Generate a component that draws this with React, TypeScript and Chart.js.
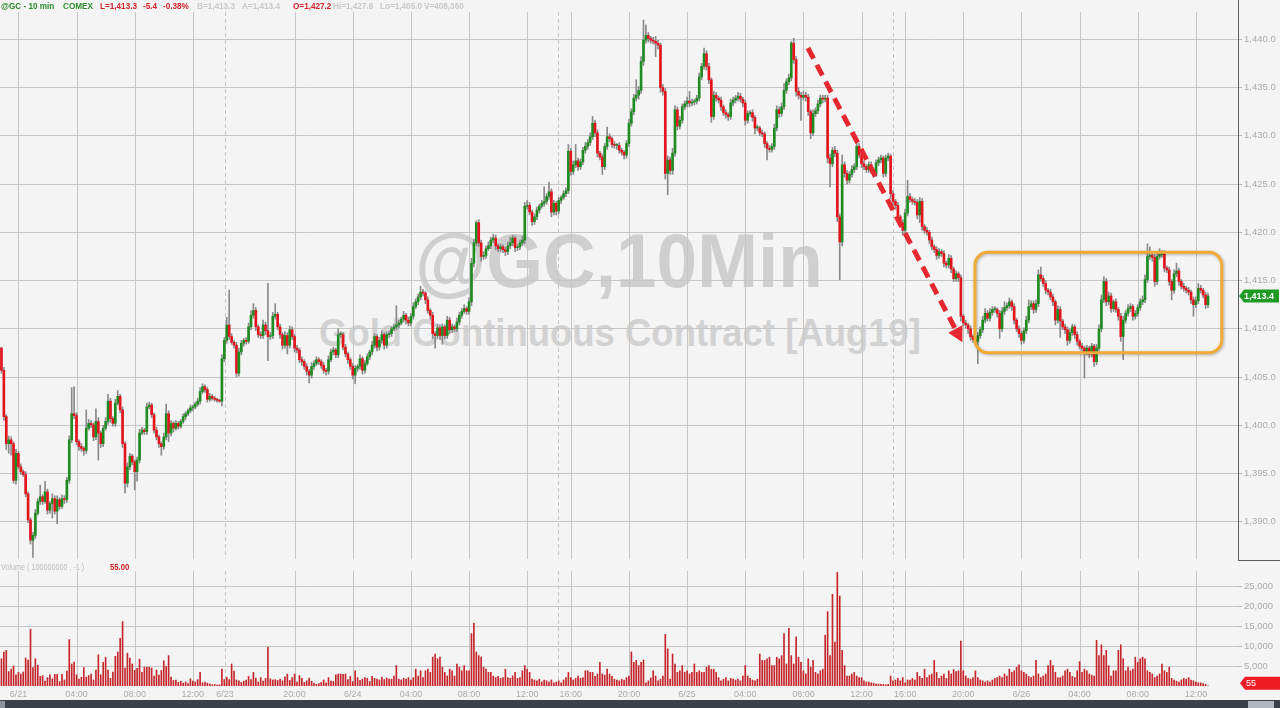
import React, { useEffect, useRef } from "react";
import { Chart, registerables } from "chart.js";
Chart.register(...registerables);

// ---------------- DATA ----------------
const firstOpen = 1408.0;

// 10-minute closes, 6/20 22:50 -> 6/26 12:50 (session gaps removed)
const closes = [
  1405.7,1400.9,1398.1,1398.5,1398.1,1394.3,1397.1,1395.7,1395.2,1394.9,
  1392.9,1390.2,1388.1,1388.6,1390.9,1392.1,1392.6,1392.1,1393.1,1391.2,
  1391.9,1392.4,1391.1,1392.3,1391.6,1392.4,1392.3,1394.3,1398.5,1401.2,
  1401.0,1398.3,1397.8,1397.6,1397.4,1399.7,1400.2,1400.05,1398.8,1400.4,
  1399.2,1398.1,1399.7,1400.4,1402.5,1400.7,1400.2,1402.3,1403.0,1401.6,
  1398.1,1394.0,1395.7,1396.8,1396.2,1395.2,1396.4,1399.2,1399.5,1399.35,
  1401.9,1402.1,1401.1,1399.5,1398.8,1398.1,1397.8,1398.8,1401.2,1399.2,
  1400.2,1399.7,1400.2,1399.9,1400.4,1400.9,1401.2,1401.5,1401.8,1401.9,
  1402.2,1402.5,1403.5,1404.0,1403.7,1402.7,1403.0,1402.8,1402.7,1402.6,
  1402.5,1406.9,1408.8,1410.4,1409.2,1408.6,1408.3,1405.4,1407.6,1408.5,
  1408.8,1408.7,1410.2,1411.4,1411.9,1410.2,1409.4,1409.3,1410.4,1409.8,
  1409.2,1409.3,1411.3,1411.5,1410.2,1409.4,1408.3,1409.3,1408.3,1409.9,
  1409.2,1408.0,1407.8,1406.8,1406.6,1406.1,1405.6,1405.2,1406.1,1406.4,
  1406.8,1406.6,1406.2,1405.7,1405.6,1406.8,1407.6,1407.8,1407.3,1409.4,
  1409.4,1408.1,1407.4,1406.8,1406.1,1405.2,1405.9,1406.1,1406.9,1405.7,
  1406.4,1407.1,1407.6,1408.3,1409.2,1408.1,1408.8,1409.4,1408.3,1409.4,
  1409.5,1410.0,1410.2,1410.4,1410.6,1411.0,1411.4,1410.9,1410.6,1411.3,
  1412.3,1412.8,1413.3,1413.8,1413.7,1413.0,1411.9,1411.4,1409.5,1409.3,
  1410.1,1409.3,1410.2,1409.3,1410.9,1409.9,1410.2,1410.0,1410.7,1411.4,
  1411.8,1412.1,1411.8,1412.8,1416.8,1418.9,1421.0,1418.9,1417.5,1417.6,
  1418.3,1418.6,1419.2,1419.4,1418.6,1418.3,1418.5,1418.2,1418.0,1418.6,
  1418.9,1419.4,1418.4,1418.5,1418.9,1419.2,1422.7,1422.8,1422.1,1421.1,
  1421.6,1422.3,1422.7,1423.0,1423.2,1423.7,1424.2,1422.1,1423.0,1422.2,
  1423.3,1423.6,1424.0,1424.3,1428.4,1426.3,1427.0,1427.4,1426.8,1427.3,
  1428.5,1428.9,1429.3,1429.9,1431.3,1430.3,1428.2,1427.8,1426.8,1428.9,
  1429.9,1429.7,1429.1,1429.0,1429.0,1428.5,1428.3,1428.0,1429.2,1431.3,
  1432.5,1433.9,1434.2,1434.7,1437.7,1439.9,1440.4,1440.1,1439.9,1439.8,
  1439.6,1439.4,1435.0,1434.6,1426.1,1427.5,1426.4,1428.2,1432.7,1431.0,
  1431.6,1433.0,1433.3,1433.6,1433.4,1433.5,1433.6,1433.9,1436.1,1437.2,
  1438.5,1437.2,1435.8,1432.0,1434.2,1433.9,1433.7,1433.0,1432.4,1432.2,
  1432.0,1433.4,1433.7,1433.9,1434.1,1433.8,1433.4,1431.6,1432.3,1432.4,
  1431.9,1430.8,1430.8,1430.3,1430.2,1429.2,1428.7,1428.6,1428.9,1430.8,
  1432.7,1432.3,1433.0,1434.7,1435.6,1436.0,1439.6,1437.9,1434.6,1434.2,
  1434.0,1434.2,1434.0,1432.5,1430.3,1432.3,1432.6,1433.3,1433.9,1433.8,
  1433.9,1427.7,1427.1,1428.5,1428.2,1421.6,1419.0,1427.0,1426.1,1425.4,
  1426.0,1426.5,1426.8,1428.9,1428.0,1427.1,1426.8,1426.5,1427.0,1426.5,
  1426.1,1427.2,1427.5,1427.7,1426.1,1427.7,1427.9,1424.0,1423.2,1422.8,
  1421.6,1421.0,1420.2,1422.0,1423.7,1423.4,1423.2,1423.1,1421.8,1423.2,
  1420.6,1420.2,1420.0,1419.2,1418.5,1418.2,1417.6,1418.0,1417.8,1416.8,
  1416.6,1417.3,1416.2,1415.2,1415.7,1415.3,1411.3,1410.6,1410.4,1410.0,
  1409.2,1408.9,1408.7,1409.3,1409.9,1410.9,1411.6,1411.1,1411.7,1412.0,
  1412.0,1411.6,1410.0,1411.8,1412.2,1412.4,1412.8,1412.3,1410.9,1410.0,
  1409.5,1408.8,1409.8,1410.9,1412.3,1412.6,1412.0,1412.6,1415.6,1415.2,
  1414.7,1414.0,1413.8,1413.3,1412.8,1410.9,1412.0,1410.8,1410.2,1409.9,
  1408.8,1409.6,1410.2,1409.4,1408.7,1408.2,1408.0,1407.6,1408.0,1407.4,
  1408.2,1406.6,1408.0,1410.0,1413.0,1414.9,1412.8,1413.4,1412.1,1412.8,
  1412.0,1411.3,1409.2,1410.9,1411.6,1412.1,1412.3,1411.3,1411.6,1412.2,
  1412.8,1413.0,1415.1,1417.5,1417.6,1417.4,1414.9,1417.5,1417.7,1417.8,
  1416.3,1416.1,1414.9,1414.0,1415.7,1416.0,1414.9,1414.4,1414.2,1414.0,
  1413.8,1413.0,1412.5,1412.9,1414.2,1414.0,1413.5,1412.5,1413.4,
];

// upper / lower shadow length of each candle (price units)
const wickUp = [
  0.1,0.3,0.2,0.4,0.3,0.2,0.4,0.2,0.3,0.2, 0.3,0.2,0.2,0.3,0.4,0.3,1.2,0.2,1.1,0.3,
  0.2,0.5,0.3,0.4,0.2,0.4,0.3,0.3,0.4,2.7, 2.8,0.3,0.2,0.3,0.2,1.9,0.4,0.3,0.2,1.3,
  0.4,0.2,0.3,0.4,0.7,0.3,0.2,0.4,0.6,0.2, 0.3,0.2,0.4,0.3,0.2,0.2,0.3,0.4,0.3,0.2,
  0.4,0.3,0.2,0.2,0.3,0.2,0.2,0.4,1.0,0.3, 0.3,0.2,0.3,0.2,0.2,0.3,0.2,0.2,0.3,0.2,
  0.2,0.3,0.4,0.3,0.2,0.2,0.3,0.2,0.2,0.1, 0.1,0.4,0.3,0.8,3.6,0.3,0.2,0.3,0.4,0.3,
  0.2,0.3,0.4,0.5,0.7,0.3,0.2,0.3,0.5,0.3, 4.9,0.3,0.4,1.1,0.2,0.3,0.2,0.4,0.3,0.4,
  0.3,0.2,0.3,0.2,0.3,0.2,0.3,0.2,0.4,0.3, 0.3,0.2,0.2,0.3,0.2,0.4,0.3,0.3,0.2,0.6,
  0.3,0.2,0.3,0.2,0.2,0.3,0.3,0.2,0.4,0.2, 0.3,0.3,0.2,0.4,0.3,0.2,0.3,0.4,0.2,0.3,
  0.3,0.2,0.3,2.0,0.3,0.2,0.4,0.2,0.3,0.3, 0.4,0.3,0.3,0.6,0.3,0.2,0.3,0.2,0.3,0.2,
  0.4,0.3,0.3,0.2,0.4,0.3,0.3,0.2,0.4,0.3, 0.3,0.4,0.2,0.4,0.5,0.4,0.2,0.3,0.3,0.4,
  0.3,0.4,0.3,0.4,0.3,0.2,0.3,0.2,0.3,0.4, 0.6,0.3,0.2,0.3,0.3,0.4,0.4,0.5,0.3,0.2,
  0.3,0.3,0.2,0.3,1.5,0.3,1.0,0.3,0.3,0.2, 0.3,0.2,0.3,0.3,0.7,0.3,0.4,1.7,0.3,0.3,
  0.3,0.4,0.3,0.4,0.7,0.3,0.3,0.2,0.3,0.3, 1.0,0.3,0.2,0.3,0.2,0.3,0.2,0.2,0.3,0.4,
  0.3,0.4,1.6,0.4,0.5,2.1,1.1,0.3,0.2,0.3, 0.5,0.3,0.2,0.3,0.3,0.4,0.3,0.5,0.4,0.3,
  0.4,0.3,0.3,0.4,1.0,0.3,0.2,0.3,0.4,0.3, 0.6,0.3,0.3,0.2,0.4,0.3,0.2,0.3,0.2,0.3,
  0.2,0.4,0.3,0.3,0.4,0.3,0.2,0.3,0.3,0.2, 0.3,0.2,0.3,0.2,0.3,0.2,0.2,0.3,0.3,0.4,
  0.4,0.3,0.4,0.7,0.3,0.4,0.2,0.5,0.3,0.4, 0.3,0.4,0.3,0.3,0.2,0.4,0.3,0.4,0.3,0.3,
  0.3,0.3,0.4,0.3,0.4,0.3,0.3,1.0,0.3,0.3, 0.3,0.4,0.3,0.7,0.3,0.2,0.3,0.2,0.3,0.3,
  0.2,0.3,0.3,0.3,0.2,0.3,0.3,0.2,0.3,0.2, 0.3,0.2,0.3,0.4,1.7,0.3,0.2,0.3,0.3,0.4,
  0.3,0.2,0.3,0.2,0.3,0.2,0.3,0.3,0.2,0.3, 0.2,0.4,0.3,0.2,0.3,0.2,0.3,0.2,0.3,0.2,
  0.3,0.2,0.3,0.3,0.3,0.4,0.5,0.3,0.4,0.3, 0.3,0.2,0.3,0.4,0.6,0.3,0.4,0.2,0.3,0.2,
  0.3,0.2,0.3,0.4,0.7,0.3,0.3,0.4,0.5,0.8, 0.3,0.3,0.2,0.3,0.3,0.2,0.4,0.3,0.2,0.3,
  0.3,0.4,0.3,0.2,0.3,0.2,0.3,0.2,0.3,0.2, 0.3,0.2,0.4,0.4,0.5,0.5,0.3,0.4,0.3,0.2,
  0.3,0.2,0.3,0.4,0.3,0.4,0.3,0.2,0.3,0.3, 0.3,0.4,0.5,1.3,0.9,0.3,0.3,0.5,0.6,0.3,
  0.3,0.2,0.3,0.2,0.4,0.8,0.3,0.2,0.3,0.2, 0.3,0.2,0.3,0.4,0.5,0.3,0.2,0.3,0.3,
];
const wickDn = [
  0.3,0.4,0.6,1.0,1.2,0.3,0.4,0.2,0.3,0.2, 0.3,0.3,0.4,1.8,0.3,0.2,0.3,0.3,0.2,0.4,
  0.3,1.5,0.3,1.3,0.3,0.2,0.4,0.3,0.3,0.3, 0.3,0.3,0.4,0.3,0.5,0.3,0.2,0.3,0.4,0.3,
  2.8,0.4,0.3,0.2,0.3,0.4,0.3,0.3,0.2,0.3, 0.4,1.0,0.4,0.3,0.3,1.9,1.0,0.3,0.2,0.3,
  0.3,0.2,0.3,0.3,0.3,0.4,0.9,0.3,0.3,0.9, 0.3,0.4,0.2,0.3,0.2,0.2,0.3,0.2,0.2,0.3,
  0.2,0.2,0.3,0.2,0.3,0.3,0.2,0.2,0.2,0.2, 0.1,0.5,0.3,0.3,0.3,0.2,0.3,0.4,0.3,0.3,
  0.3,0.3,0.2,0.3,0.3,0.4,0.3,0.3,0.3,0.4, 2.5,0.3,0.3,0.3,0.3,0.4,0.4,0.3,0.9,0.3,
  0.3,0.4,0.3,0.3,0.4,0.3,0.4,0.8,0.3,0.3, 0.2,0.3,0.3,0.3,0.4,0.3,0.2,0.3,0.3,0.3,
  0.3,0.3,0.3,0.4,0.3,0.4,0.9,0.3,0.3,0.4, 0.3,0.2,0.3,0.3,0.3,0.4,0.3,0.3,0.4,0.3,
  0.3,0.3,0.2,0.3,0.3,0.2,0.3,0.4,0.3,0.3, 0.3,0.2,0.3,0.3,0.3,0.4,0.3,0.4,0.5,1.3,
  0.3,0.4,0.9,0.3,0.3,0.4,0.3,0.3,0.3,0.3, 0.3,0.2,0.3,0.3,0.4,0.4,0.3,0.4,0.5,0.3,
  0.3,0.2,0.3,0.3,0.4,0.3,0.3,0.3,0.4,0.3, 0.3,0.3,0.4,0.3,0.3,0.3,0.4,0.3,0.3,0.4,
  0.3,0.3,0.3,0.2,0.3,0.3,0.3,0.5,0.3,0.4, 0.3,0.3,0.2,0.3,0.3,0.4,0.3,0.3,0.4,0.3,
  0.3,0.3,0.3,0.3,0.3,0.4,0.4,0.3,0.8,0.3, 0.3,0.3,0.3,0.3,0.4,0.3,0.3,0.4,0.3,0.3,
  0.3,0.3,0.3,0.4,0.3,0.4,0.3,0.4,0.3,0.3, 1.4,0.4,0.5,0.4,0.6,2.2,0.4,0.4,0.3,0.4,
  0.3,0.3,0.3,0.3,0.4,0.3,0.3,0.3,0.3,0.3, 0.3,0.4,0.4,0.6,0.3,0.3,0.3,0.4,0.3,0.4,
  0.4,0.3,0.3,0.3,0.3,0.3,0.4,0.5,0.3,0.3, 0.4,0.6,0.3,0.3,0.3,0.4,1.2,0.3,0.3,0.3,
  0.3,0.4,0.3,0.3,0.3,0.3,0.3,0.4,0.5,0.4, 2.4,0.3,0.4,0.4,0.6,0.3,0.3,0.3,0.3,0.4,
  0.3,0.5,2.4,0.3,0.4,0.5,3.9,0.4,0.4,0.4, 0.3,0.3,0.3,0.3,0.3,0.4,0.3,0.3,0.3,0.4,
  0.4,0.3,0.3,0.3,0.4,0.3,0.3,0.5,0.4,0.4, 0.4,0.4,0.5,0.3,0.3,0.3,0.3,0.3,0.4,0.8,
  0.4,0.3,0.3,0.4,0.3,0.3,0.4,0.3,0.3,0.4, 0.3,0.3,0.4,0.3,0.3,0.4,0.5,0.3,0.3,0.5,
  0.4,0.3,0.3,2.3,0.3,0.3,0.3,0.3,0.3,0.3, 0.3,0.4,1.0,0.3,0.3,0.3,0.3,0.4,0.4,0.3,
  0.4,0.4,0.3,0.3,0.3,0.3,0.4,0.3,0.3,0.3, 0.3,0.4,0.3,0.3,0.4,0.5,0.3,1.7,0.3,0.4,
  0.5,0.3,0.3,0.4,0.4,0.3,0.3,2.7,0.3,0.4, 0.3,0.5,0.3,0.3,0.3,0.3,0.4,0.3,0.4,0.3,
  0.3,0.4,0.5,2.4,0.3,0.3,0.3,0.4,0.3,0.3, 0.3,0.3,0.3,0.3,0.3,0.4,0.5,0.3,0.3,0.3,
  0.4,0.3,0.4,1.0,0.3,0.3,0.4,0.3,0.3,0.3, 0.3,0.4,1.2,0.3,0.3,0.3,0.3,0.4,0.3,
];

const volumes = [
  6800,8500,8900,3600,4200,5000,2800,3400,3000,3500, 7000,6500,14200,4600,6800,5200,2400,2600,1200,2100,
  2800,1800,2900,2900,1100,2900,1500,3700,11600,5500, 6000,2800,1700,2200,4600,2200,2600,3000,1500,4000,
  7800,2800,5900,7200,4000,1900,3500,7400,8500,11900, 16100,4500,8200,7000,5500,3900,4400,6700,3400,4700,
  4700,4700,4500,2500,4000,2700,3900,6300,4900,7600, 2200,1400,1500,900,1200,700,1000,600,1800,1200,
  1000,1600,3400,800,1000,700,500,300,400,200, 300,4200,1600,2200,1600,5500,3700,1500,1300,900,
  1200,1500,2400,1600,3400,2000,1000,2100,1200,1900, 9700,1800,1500,1600,1400,1700,1300,2300,3000,1400,
  2100,3000,1000,2600,1900,900,1300,2000,1200,700, 400,600,900,1500,800,2100,1200,1100,2800,3000,
  3000,2900,3000,1600,2400,1100,3800,2100,1400,1700, 2100,1900,1100,2400,1900,1700,1500,2200,1600,2000,
  1700,1700,2500,5100,1700,1500,1900,1700,2100,1500, 2100,4200,2500,3800,2100,3800,4200,3400,7200,8000,
  6800,7200,4700,3400,2500,4200,3800,2500,5500,4700, 3800,5100,3800,3800,13100,15700,8500,7600,7200,4700,
  4200,3400,3400,2500,2100,2400,1900,2100,4200,2100, 1900,2500,3400,1900,2100,3800,5100,4200,3400,1700,
  1500,1300,1700,1000,1500,1300,1000,1500,800,1000, 1300,800,1500,2100,3400,2100,1500,1900,2500,1900,
  2100,3800,3800,3400,3400,2400,3000,5900,3000,2700, 4200,3000,2400,1700,1500,1300,1700,1500,2100,2500,
  8500,5900,6400,5100,5900,6500,800,1300,2000,3800, 2500,1300,1700,2500,12900,9300,1700,8000,5500,3400,
  3800,5100,3400,3800,3000,3400,5500,3400,3800,3400, 3400,4700,5100,4200,4200,3400,2100,1300,1700,2100,
  1300,1900,1700,1500,1700,1300,2500,5100,2500,1900, 1500,1300,1700,8000,6400,6400,6800,7200,5100,5100,
  7200,6800,7600,13100,5500,14400,7600,5500,12300,7200, 5900,3800,3000,6800,4700,6400,3400,3000,3800,4200,
  12700,18600,7600,22900,11000,28400,22500,8900,5100,2500, 2500,3000,3400,2500,2100,2100,1300,1000,1000,800,
  700,500,500,400,400,300,400,2500,1300,1500, 1900,1300,2100,800,1500,1500,1900,1500,3400,2400,
  1900,4200,2100,2700,3000,6400,3400,1900,2500,3000, 1900,3800,3000,4100,3600,3800,11200,3800,2500,1900,
  1700,2100,3800,2100,1500,1300,1000,1300,1000,1500, 1900,2100,2500,2100,3000,2500,4200,3400,3800,4700,
  5300,3800,3400,3000,2400,2100,2500,6400,3000,2100, 2500,3000,5100,6400,5100,3400,2100,2100,2500,3800,
  4200,3400,2400,2100,3800,6100,3400,4200,3800,3000, 2700,2500,11400,7600,10300,7600,8900,5100,2500,3800,
  3800,8900,10300,6800,3800,4700,3800,4200,7200,5900, 6800,7200,6800,3800,3400,3000,2100,2500,3000,5500,
  3800,3400,4700,1900,1500,1200,1000,1500,1900,1700, 2100,1500,1300,1000,800,800,600,400,55,
];

// time axis (bar index of each labelled gridline)
const labelIdx = [7, 31, 55, 79, 92.3, 121, 145, 169, 193, 217, 235, 259, 283, 307, 331, 355, 373, 397, 421, 445, 469, 493];
const timeLabels = ["6/21", "04:00", "08:00", "12:00", "6/23", "20:00", "6/24", "04:00", "08:00", "12:00", "16:00", "20:00", "6/25", "04:00", "08:00", "12:00", "16:00", "20:00", "6/26", "04:00", "08:00", "12:00"];
const sessionIdx = [92.3, 229.7, 367.8];

const priceTicks = [1390, 1395, 1400, 1405, 1410, 1415, 1420, 1425, 1430, 1435, 1440];
const volumeTicks = [5000, 10000, 15000, 20000, 25000];
const lastPrice = 1413.4;
const lastVolume = 55;

// annotations (data coordinates: bar index, price)
const arrowFrom = { i: 332.9, p: 1439.1 };
const arrowTo = { i: 396.6, p: 1408.6 };
const rangeBox = { i0: 401.8, i1: 503.7, top: 1417.93, bottom: 1407.52 };

// ---------------- STYLE ----------------
const BG = "#f4f4f4";
const GRID = "#c6c6c6";
const UP = "#1e8c21";
const DOWN = "#e3151c";
const WICK = "#8a8a8a";
const AXIS_TXT = "#ababab";
const X_MIN = -0.594;
const X_MAX = 510.38;

const fmtPrice = (v: number) =>
  v.toLocaleString("en-US", { minimumFractionDigits: 1, maximumFractionDigits: 1 });
const fmtVol = (v: number) => v.toLocaleString("en-US");

const HEADER = [
  { text: "@GC - 10 min", left: 1, color: "#2c8a2c" },
  { text: "COMEX", left: 63, color: "#2c8a2c" },
  { text: "L=1,413.3", left: 100, color: "#d2232b" },
  { text: "-5.4", left: 143, color: "#d2232b" },
  { text: "-0.38%", left: 163, color: "#d2232b" },
  { text: "B=1,413.3", left: 197, color: "#c9c9c9" },
  { text: "A=1,413.4", left: 242, color: "#c9c9c9" },
  { text: "O=1,427.2", left: 293, color: "#d2232b" },
  { text: "Hi=1,427.9", left: 333, color: "#c9c9c9" },
  { text: "Lo=1,405.0", left: 380, color: "#c9c9c9" },
  { text: "V=408,360", left: 424, color: "#c9c9c9" },
];

const SANS = '"Liberation Sans", Arial, sans-serif';

function makeTimeGrid(top: number, bottomInset: number) {
  return {
    id: "timeGrid",
    beforeDatasetsDraw(chart: any) {
      const { ctx, chartArea, scales } = chart;
      const xs = scales.x;
      ctx.save();
      ctx.strokeStyle = GRID;
      ctx.lineWidth = 1;
      const y0 = chartArea.top + top;
      const y1 = chartArea.bottom - bottomInset;
      labelIdx.forEach((t) => {
        if (sessionIdx.includes(t)) return;
        const x = Math.round(xs.getPixelForValue(t)) + 0.5;
        ctx.setLineDash([]);
        ctx.beginPath();
        ctx.moveTo(x, y0);
        ctx.lineTo(x, y1);
        ctx.stroke();
      });
      sessionIdx.forEach((t) => {
        const x = Math.round(xs.getPixelForValue(t)) + 0.5;
        ctx.setLineDash([4, 3]);
        ctx.beginPath();
        ctx.moveTo(x, y0);
        ctx.lineTo(x, y1);
        ctx.stroke();
      });
      ctx.restore();
    },
  };
}

const annotationPlugin = {
  id: "annotations",
  afterDatasetsDraw(chart: any) {
    const { ctx, scales } = chart;
    const xs = scales.x;
    const ys = scales.y;
    const bx0 = xs.getPixelForValue(rangeBox.i0);
    const bx1 = xs.getPixelForValue(rangeBox.i1);
    const by0 = ys.getPixelForValue(rangeBox.top);
    const by1 = ys.getPixelForValue(rangeBox.bottom);
    ctx.save();
    ctx.shadowColor = "rgba(0,0,0,0.28)";
    ctx.shadowBlur = 3;
    ctx.shadowOffsetX = 1;
    ctx.shadowOffsetY = 1;
    ctx.strokeStyle = "#efab35";
    ctx.lineWidth = 3;
    ctx.beginPath();
    ctx.roundRect(bx0, by0, bx1 - bx0, by1 - by0, 13);
    ctx.stroke();
    ctx.restore();

    const ax0 = xs.getPixelForValue(arrowFrom.i);
    const ay0 = ys.getPixelForValue(arrowFrom.p);
    const ax1 = xs.getPixelForValue(arrowTo.i);
    const ay1 = ys.getPixelForValue(arrowTo.p);
    const ang = Math.atan2(ay1 - ay0, ax1 - ax0);
    const head = 15;
    const hx = ax1 - Math.cos(ang) * head;
    const hy = ay1 - Math.sin(ang) * head;
    ctx.save();
    ctx.strokeStyle = "#e5282f";
    ctx.fillStyle = "#e5282f";
    ctx.lineWidth = 5;
    ctx.setLineDash([12, 7]);
    ctx.beginPath();
    ctx.moveTo(ax0, ay0);
    ctx.lineTo(hx, hy);
    ctx.stroke();
    ctx.setLineDash([]);
    const w = 8;
    ctx.beginPath();
    ctx.moveTo(ax1, ay1);
    ctx.lineTo(hx + Math.sin(ang) * w, hy - Math.cos(ang) * w);
    ctx.lineTo(hx - Math.sin(ang) * w, hy + Math.cos(ang) * w);
    ctx.closePath();
    ctx.fill();
    ctx.restore();
  },
  afterDraw(chart: any) {
    const { ctx, chartArea, scales } = chart;
    const y = scales.y.getPixelForValue(lastPrice);
    const x0 = chartArea.right + 1;
    ctx.save();
    ctx.fillStyle = "#1f9a25";
    ctx.beginPath();
    ctx.moveTo(x0, y);
    ctx.lineTo(x0 + 5, y - 6.5);
    ctx.lineTo(x0 + 40, y - 6.5);
    ctx.lineTo(x0 + 40, y + 6.5);
    ctx.lineTo(x0 + 5, y + 6.5);
    ctx.closePath();
    ctx.fill();
    ctx.fillStyle = "#ffffff";
    ctx.font = `bold 9px ${SANS}`;
    ctx.textBaseline = "middle";
    ctx.fillText(fmtPrice(lastPrice), x0 + 5, y + 0.5);
    ctx.restore();
  },
};

const volumeTagPlugin = {
  id: "volTag",
  afterDraw(chart: any) {
    const { ctx, chartArea, scales } = chart;
    const y = scales.y.getPixelForValue(lastVolume) - 2.5;
    const x0 = chartArea.right + 2;
    ctx.save();
    ctx.fillStyle = "#ee1c24";
    ctx.beginPath();
    ctx.moveTo(x0, y);
    ctx.lineTo(x0 + 5, y - 6.5);
    ctx.lineTo(1280, y - 6.5);
    ctx.lineTo(1280, y + 6.5);
    ctx.lineTo(x0 + 5, y + 6.5);
    ctx.closePath();
    ctx.fill();
    ctx.fillStyle = "#ffffff";
    ctx.font = `9px ${SANS}`;
    ctx.textBaseline = "middle";
    ctx.fillText(String(lastVolume), x0 + 6, y + 0.5);
    ctx.restore();
  },
};

export default function App() {
  const priceRef = useRef<HTMLCanvasElement>(null);
  const volRef = useRef<HTMLCanvasElement>(null);

  useEffect(() => {
    const opens = closes.map((c, i) => (i === 0 ? firstOpen : closes[i - 1]));
    const highs = closes.map((c, i) => Math.max(opens[i], c) + wickUp[i]);
    const lows = closes.map((c, i) => Math.min(opens[i], c) - wickDn[i]);
    const colors = closes.map((c, i) => (c >= opens[i] ? UP : DOWN));

    const price = new Chart(priceRef.current as HTMLCanvasElement, {
      type: "bar",
      data: {
        datasets: [
          {
            label: "wick",
            data: closes.map((_, i) => ({ x: i, y: [lows[i], highs[i]] })) as any,
            backgroundColor: WICK,
            barThickness: 1,
            grouped: false,
            order: 2,
          } as any,
          {
            label: "body",
            data: closes.map((c, i) => ({ x: i, y: [opens[i], c] })) as any,
            backgroundColor: colors,
            barThickness: 2,
            minBarLength: 1,
            grouped: false,
            order: 1,
          } as any,
        ],
      },
      options: {
        animation: false,
        responsive: false,
        events: [],
        layout: { padding: 0 },
        plugins: { legend: { display: false }, tooltip: { enabled: false } },
        scales: {
          x: { type: "linear", min: X_MIN, max: X_MAX, display: false, offset: false } as any,
          y: {
            position: "right",
            min: 1385.94,
            max: 1444.07,
            afterBuildTicks: (s: any) => {
              s.ticks = priceTicks.map((v) => ({ value: v }));
            },
            afterFit: (s: any) => {
              s.width = 42;
              s.paddingTop = 0;
              s.paddingBottom = 0;
            },
            grid: { color: GRID, lineWidth: 1, drawTicks: true, tickLength: 4, tickColor: "#b8b8b8" },
            border: { display: true, color: "#5d5d5d", width: 1 },
            ticks: {
              color: AXIS_TXT,
              padding: 2,
              font: { family: SANS, size: 9.5 },
              callback: (v: any) => fmtPrice(Number(v)),
            },
          } as any,
        },
      },
      plugins: [makeTimeGrid(12, 2), annotationPlugin],
    });

    const vol = new Chart(volRef.current as HTMLCanvasElement, {
      type: "bar",
      data: {
        datasets: [
          {
            label: "volume",
            data: volumes.map((v, i) => ({ x: i, y: v })) as any,
            backgroundColor: "#c4262b",
            barThickness: 1,
            grouped: false,
          } as any,
        ],
      },
      options: {
        animation: false,
        responsive: false,
        events: [],
        layout: { padding: { top: 10, left: 0, right: 0, bottom: 0 } },
        plugins: { legend: { display: false }, tooltip: { enabled: false } },
        scales: {
          x: {
            type: "linear",
            min: X_MIN,
            max: X_MAX,
            offset: false,
            afterBuildTicks: (s: any) => {
              s.ticks = labelIdx.map((v) => ({ value: v }));
            },
            afterFit: (s: any) => {
              s.height = 14;
              s.paddingLeft = 0;
              s.paddingRight = 0;
            },
            grid: { display: false, drawTicks: false },
            border: { display: false },
            ticks: {
              autoSkip: false,
              maxRotation: 0,
              minRotation: 0,
              padding: 3,
              color: AXIS_TXT,
              font: { family: SANS, size: 9 },
              callback: (_v: any, i: number) => timeLabels[i],
            },
          } as any,
          y: {
            position: "right",
            min: 0,
            max: 28750,
            afterBuildTicks: (s: any) => {
              s.ticks = volumeTicks.map((v) => ({ value: v }));
            },
            afterFit: (s: any) => {
              s.width = 42;
              s.paddingTop = 0;
              s.paddingBottom = 0;
            },
            grid: { color: GRID, lineWidth: 1, drawTicks: true, tickLength: 4, tickColor: "#b8b8b8" },
            border: { display: false },
            ticks: {
              color: AXIS_TXT,
              padding: 2,
              font: { family: SANS, size: 9.5 },
              callback: (v: any) => fmtVol(Number(v)),
            },
          } as any,
        },
      },
      plugins: [makeTimeGrid(0, 0), volumeTagPlugin],
    });

    return () => {
      price.destroy();
      vol.destroy();
    };
  }, []);

  return (
    <div
      style={{
        position: "fixed",
        left: 0,
        top: 0,
        width: 1280,
        height: 708,
        overflow: "hidden",
        background: BG,
      }}
    >
      {/* watermark */}
      <div
        style={{
          position: "absolute",
          left: 619,
          top: 223,
          transform: "translateX(-50%) scaleX(0.96)",
          font: `bold 76px ${SANS}`,
          lineHeight: "76px",
          color: "#cfcfcf",
          whiteSpace: "nowrap",
        }}
      >
        @GC,10Min
      </div>
      <div
        style={{
          position: "absolute",
          left: 620,
          top: 314,
          transform: "translateX(-50%) scaleX(0.96)",
          font: `bold 38px ${SANS}`,
          lineHeight: "38px",
          color: "#d2d2d2",
          whiteSpace: "nowrap",
        }}
      >
        Gold Continuous Contract [Aug19]
      </div>

      <canvas
        ref={priceRef}
        width={1280}
        height={561}
        style={{ position: "absolute", left: 0, top: 0, width: 1280, height: 561 }}
      />
      <canvas
        ref={volRef}
        width={1280}
        height={139}
        style={{ position: "absolute", left: 0, top: 561, width: 1280, height: 139 }}
      />

      {/* header */}
      {HEADER.map((h, k) => (
        <span
          key={k}
          style={{
            position: "absolute",
            left: h.left,
            top: 0,
            font: `bold 9.5px ${SANS}`,
            lineHeight: "12px",
            color: h.color,
            whiteSpace: "nowrap",
            transform: "scaleX(0.86)",
            transformOrigin: "0 0",
          }}
        >
          {h.text}
        </span>
      ))}

      {/* volume study caption */}
      <span
        style={{
          position: "absolute",
          left: 1,
          top: 561,
          font: `9px ${SANS}`,
          lineHeight: "12px",
          color: "#bdbdbd",
          whiteSpace: "nowrap",
          transform: "scaleX(0.8)",
          transformOrigin: "0 0",
        }}
      >
        Volume ( 100000000 , -1 )
      </span>
      <span
        style={{
          position: "absolute",
          left: 110,
          top: 561,
          font: `bold 9px ${SANS}`,
          lineHeight: "12px",
          color: "#d2232b",
          whiteSpace: "nowrap",
          transform: "scaleX(0.86)",
          transformOrigin: "0 0",
        }}
      >
        55.00
      </span>

      {/* panel separator on axis */}
      <div style={{ position: "absolute", left: 1238, top: 560, width: 42, height: 1, background: "#5d5d5d" }} />

      {/* bottom scroll bar */}
      <div style={{ position: "absolute", left: 0, top: 700, width: 1280, height: 8, background: "#3b404a" }} />
      <div style={{ position: "absolute", left: 0, top: 701, width: 5, height: 7, background: "#8d929b" }} />
      <div style={{ position: "absolute", left: 1248, top: 701, width: 26, height: 7, background: "#b3b7bf" }} />
    </div>
  );
}
